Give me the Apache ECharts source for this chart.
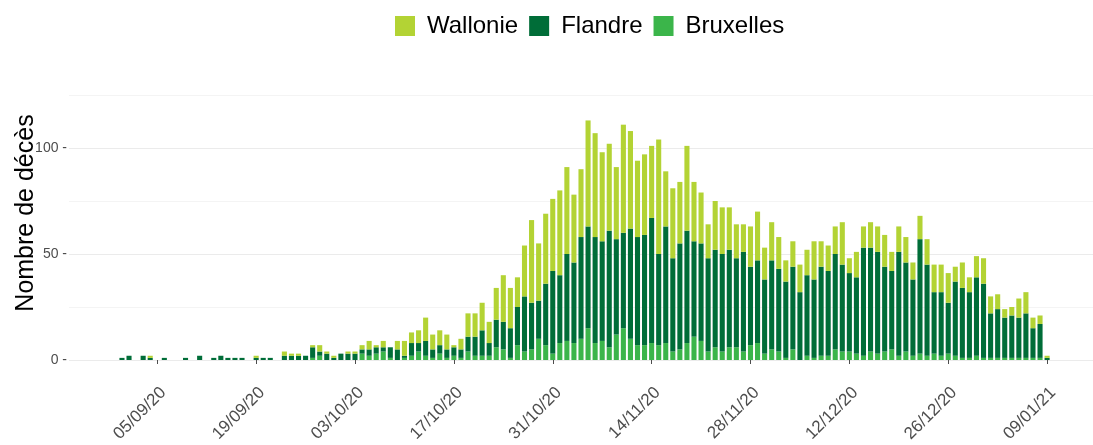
<!DOCTYPE html>
<html>
<head>
<meta charset="utf-8">
<script src="https://cdn.jsdelivr.net/npm/echarts@6/dist/echarts.min.js"></script>
<style>
  html, body { margin: 0; padding: 0; background: #fff; }
  #chart { width: 1093px; height: 445px; }
</style>
</head>
<body>
<div id="chart"></div>
<script>
// décès quotidiens par région, du 31/08/20 au 09/01/21
const firstDay = Date.UTC(2020, 7, 24);   // axe commence une semaine avant les données
const nbDays = 145;
const dataOffset = 7;

const wallonie = [
  0,
  // septembre
  0, 0, 0, 1, 0, 0, 0, 0, 0, 0, 0, 0, 0, 0, 0, 0, 0, 0, 1, 0, 0, 0, 2, 1, 1, 0, 1, 3, 1, 1,
  // octobre
  0, 1, 1, 2, 4, 1, 3, 0, 4, 7, 5, 6, 11, 7, 7, 7, 1, 5, 11, 11, 13, 10, 15, 22, 19, 14, 24, 39, 27, 33, 34,
  // novembre
  40, 41, 32, 32, 50, 49, 42, 41, 34, 51, 46, 36, 38, 34, 54, 26, 33, 29, 40, 28, 24, 16, 23, 22, 20, 16, 13, 19, 23, 15,
  // décembre
  18, 15, 10, 12, 13, 12, 18, 12, 12, 13, 20, 7, 12, 10, 12, 12, 15, 9, 12, 12, 8, 11, 12, 13, 13, 14, 7, 12, 7, 10, 12,
  // janvier
  8, 7, 4, 4, 9, 10, 5, 4, 1
];

const flandre = [
  1,
  2, 0, 2, 1, 0, 1, 0, 0, 1, 0, 2, 0, 1, 2, 1, 1, 1, 0, 1, 1, 1, 0, 2, 2, 2, 2, 5, 2, 3, 1,
  3, 3, 3, 2, 3, 3, 2, 5, 5, 1, 6, 4, 7, 4, 4, 4, 4, 4, 7, 9, 12, 6, 13, 13, 14, 18, 26, 22, 18, 29, 39,
  32, 41, 38, 48, 48, 50, 47, 55, 45, 45, 52, 51, 52, 59, 43, 55, 44, 50, 53, 45, 46, 44, 46, 46, 46, 42, 47, 37, 39, 35,
  42, 39, 36, 39, 32, 38, 37, 42, 40, 45, 41, 37, 36, 51, 49, 48, 40, 37, 49, 42, 36, 54, 43, 29, 30, 24, 35, 33, 31, 37, 35,
  21, 23, 19, 20, 19, 21, 14, 16, 1
];

const bruxelles = [
  0,
  0, 0, 0, 0, 0, 0, 0, 0, 0, 0, 0, 0, 0, 0, 0, 0, 0, 0, 0, 0, 0, 0, 0, 0, 0, 0, 1, 2, 0, 0,
  0, 0, 0, 3, 2, 3, 4, 1, 0, 1, 2, 4, 2, 1, 3, 1, 2, 1, 4, 2, 2, 2, 6, 5, 1, 7, 4, 5, 10, 7, 3,
  8, 9, 8, 10, 15, 8, 9, 6, 12, 15, 10, 7, 7, 8, 7, 8, 4, 5, 8, 11, 9, 4, 6, 4, 6, 6, 4, 7, 8, 3,
  5, 4, 1, 5, 0, 2, 1, 2, 2, 5, 4, 4, 3, 2, 4, 3, 4, 5, 2, 4, 2, 3, 2, 3, 2, 3, 2, 1, 1, 2, 1,
  1, 1, 1, 1, 1, 1, 1, 1, 0
];

const xTickLabels = ['05/09/20', '19/09/20', '03/10/20', '17/10/20', '31/10/20',
  '14/11/20', '28/11/20', '12/12/20', '26/12/20', '09/01/21'];
const yTickLabels = [0, 50, 100];

const colors = { Wallonie: '#b3d334', Flandre: '#006d38', Bruxelles: '#3bb54a' };
const font = '"Liberation Sans", Arial, sans-serif';

function pad2(n) { return n < 10 ? '0' + n : '' + n; }
const dates = [];
for (let i = 0; i < nbDays; i++) {
  const d = new Date(firstDay + i * 86400000);
  dates.push(pad2(d.getUTCDate()) + '/' + pad2(d.getUTCMonth() + 1) + '/' + String(d.getUTCFullYear()).slice(2));
}
function shift(arr) {
  return new Array(dataOffset).fill(null).concat(arr);
}
function isTick(i, v) { return xTickLabels.indexOf(v) >= 0; }

const chart = echarts.init(document.getElementById('chart'));
chart.setOption({
  animation: false,
  textStyle: { fontFamily: font },
  legend: {
    data: ['Wallonie', 'Flandre', 'Bruxelles'],
    left: 390,
    top: 9,
    icon: 'rect',
    itemWidth: 20,
    itemHeight: 20,
    itemGap: 11,
    textStyle: { fontSize: 24, color: '#000', fontFamily: font, padding: [0, 0, 0, 7] }
  },
  grid: { left: 69, right: 0, top: 95, bottom: 85 },
  graphic: [{
    type: 'text',
    x: 26,
    y: 213,
    rotation: Math.PI / 2,
    style: {
      text: 'Nombre de décès',
      font: '25px ' + font,
      fill: '#000',
      textAlign: 'center',
      textVerticalAlign: 'middle'
    }
  }],
  xAxis: {
    type: 'category',
    data: dates,
    offset: 13,
    axisLine: { show: false },
    axisTick: {
      show: true,
      alignWithLabel: true,
      length: 4,
      interval: isTick,
      lineStyle: { color: '#4d4d4d' }
    },
    axisLabel: {
      interval: isTick,
      rotate: 45,
      margin: 11,
      verticalAlign: 'top',
      fontSize: 17,
      color: '#4d4d4d',
      fontFamily: font
    },
    splitLine: { show: false }
  },
  yAxis: {
    type: 'value',
    min: 0,
    max: 125,
    interval: 25,
    axisLine: { show: false },
    axisTick: { show: false },
    axisLabel: {
      formatter: v => yTickLabels.indexOf(v) >= 0 ? String(v) + ' -' : '',
      fontSize: 14,
      color: '#4d4d4d',
      margin: 2,
      fontFamily: font
    },
    splitLine: { lineStyle: { color: ['#ebebeb', '#f4f4f4'], width: 1 } }
  },
  series: [
    { name: 'Bruxelles', type: 'bar', stack: 'total', data: shift(bruxelles),
      itemStyle: { color: colors.Bruxelles }, barCategoryGap: '28%' },
    { name: 'Flandre', type: 'bar', stack: 'total', data: shift(flandre),
      itemStyle: { color: colors.Flandre } },
    { name: 'Wallonie', type: 'bar', stack: 'total', data: shift(wallonie),
      itemStyle: { color: colors.Wallonie } }
  ]
});
</script>
</body>
</html>
